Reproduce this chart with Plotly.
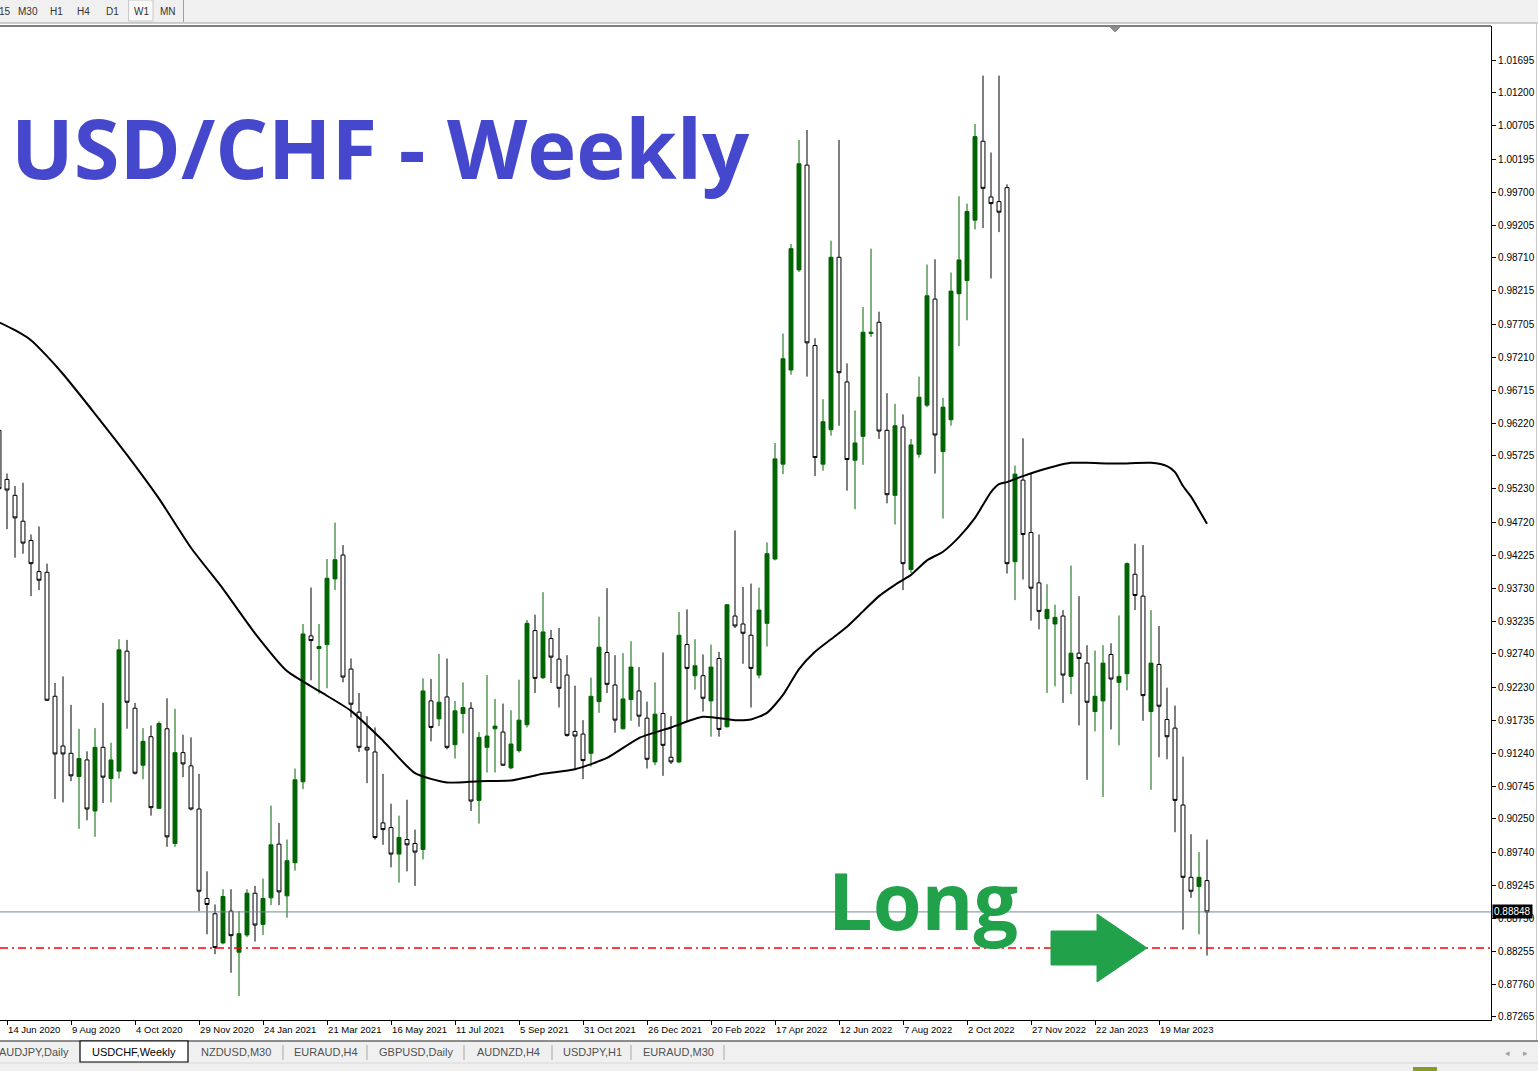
import pandas as pd
import plotly.graph_objects as go

# ---------------- data ----------------
first_week = "2020-06-07"

opens = [0.9611, 0.9537, 0.9513, 0.9474, 0.9445, 0.9398, 0.9397, 0.9210, 0.9135, 0.9124,
         0.9089, 0.9114, 0.9037, 0.9133, 0.9086, 0.9097, 0.9278, 0.9192, 0.9106, 0.9149,
         0.9041, 0.9161, 0.8988, 0.9125, 0.9105, 0.9040, 0.8905, 0.8882, 0.8838, 0.8886,
         0.8824, 0.8850, 0.8913, 0.8866, 0.8906, 0.8987, 0.8909, 0.8959, 0.9081, 0.9301,
         0.9282, 0.9288, 0.9387, 0.9423, 0.9251, 0.9186, 0.9133, 0.9126, 0.9019, 0.9012,
         0.8972, 0.8994, 0.8988, 0.8979, 0.9203, 0.9176, 0.9209, 0.9137, 0.9184, 0.9192,
         0.9053, 0.9133, 0.9161, 0.9156, 0.9102, 0.9128, 0.9167, 0.9309, 0.9238, 0.9297,
         0.9266, 0.9242, 0.9157, 0.9153, 0.9124, 0.9202, 0.9276, 0.9227, 0.9161, 0.9205,
         0.9218, 0.9177, 0.9111, 0.9184, 0.9118, 0.9111, 0.9288, 0.9241, 0.9241, 0.9203,
         0.9267, 0.9164, 0.9331, 0.9319, 0.9302, 0.9242, 0.9320, 0.9417, 0.9560, 0.9702,
         0.9853, 1.0011, 0.9739, 0.9560, 0.9612, 0.9872, 0.9684, 0.9566, 0.9602, 0.9757,
         0.9774, 0.9611, 0.9513, 0.9616, 0.9401, 0.9575, 0.9649, 0.9809, 0.9579, 0.9627,
         0.9817, 0.9837, 0.9928, 1.0047, 0.9963, 0.9956, 0.9977, 0.9413, 0.9536, 0.9457,
         0.9381, 0.9327, 0.9319, 0.9331, 0.9240, 0.9275, 0.9260, 0.9187, 0.9203, 0.9273,
         0.9231, 0.9244, 0.9394, 0.9361, 0.9187, 0.9258, 0.9175, 0.9162, 0.9046, 0.8937,
         0.8923, 0.8932]

highs = [0.9616, 0.9546, 0.9527, 0.9532, 0.9454, 0.9466, 0.9410, 0.9230, 0.9240, 0.9197,
         0.9161, 0.9127, 0.9162, 0.9200, 0.9140, 0.9296, 0.9295, 0.9200, 0.9162, 0.9166,
         0.9172, 0.9207, 0.9191, 0.9152, 0.9148, 0.9093, 0.8946, 0.8896, 0.8919, 0.8919,
         0.8886, 0.8919, 0.8924, 0.8935, 0.9045, 0.9019, 0.8994, 0.9101, 0.9319, 0.9374,
         0.9319, 0.9417, 0.9472, 0.9438, 0.9267, 0.9215, 0.9180, 0.9163, 0.9093, 0.9048,
         0.9030, 0.9054, 0.9009, 0.9237, 0.9236, 0.9274, 0.9267, 0.9203, 0.9231, 0.9201,
         0.9156, 0.9242, 0.9206, 0.9199, 0.9189, 0.9235, 0.9325, 0.9333, 0.9367, 0.9310,
         0.9313, 0.9272, 0.9226, 0.9174, 0.9238, 0.9330, 0.9373, 0.9272, 0.9275, 0.9293,
         0.9254, 0.9202, 0.9231, 0.9276, 0.9180, 0.9337, 0.9341, 0.9296, 0.9273, 0.9288,
         0.9277, 0.9349, 0.9460, 0.9375, 0.9380, 0.9374, 0.9442, 0.9592, 0.9757, 0.9892,
         1.0049, 1.0064, 0.9750, 0.9658, 0.9897, 1.0049, 0.9712, 0.9641, 0.9797, 0.9885,
         0.9790, 0.9667, 0.9651, 0.9635, 0.9598, 0.9692, 0.9861, 0.9869, 0.9660, 0.9849,
         0.9964, 0.9953, 1.0073, 1.0146, 1.0030, 1.0146, 0.9982, 0.9558, 0.9599, 0.9546,
         0.9454, 0.9379, 0.9348, 0.9340, 0.9407, 0.9361, 0.9287, 0.9279, 0.9287, 0.9290,
         0.9332, 0.9412, 0.9440, 0.9438, 0.9340, 0.9316, 0.9223, 0.9196, 0.9119, 0.9002,
         0.8975, 0.8994]

lows = [0.9518, 0.9462, 0.9419, 0.9425, 0.9361, 0.9370, 0.9203, 0.9055, 0.9050, 0.9082,
        0.9010, 0.9023, 0.8998, 0.9049, 0.9050, 0.9086, 0.9161, 0.9092, 0.9085, 0.9030,
        0.9040, 0.8983, 0.8983, 0.9088, 0.9038, 0.8886, 0.8851, 0.8821, 0.8836, 0.8793,
        0.8758, 0.8847, 0.8840, 0.8850, 0.8895, 0.8895, 0.8876, 0.8947, 0.9070, 0.9234,
        0.9214, 0.9222, 0.9370, 0.9231, 0.9178, 0.9126, 0.9079, 0.8994, 0.8986, 0.8952,
        0.8929, 0.8946, 0.8924, 0.8964, 0.9142, 0.9165, 0.9130, 0.9116, 0.9154, 0.9037,
        0.9018, 0.9095, 0.9095, 0.9105, 0.9100, 0.9125, 0.9163, 0.9215, 0.9236, 0.9230,
        0.9193, 0.9149, 0.9099, 0.9085, 0.9104, 0.9185, 0.9215, 0.9155, 0.9160, 0.9173,
        0.9164, 0.9101, 0.9106, 0.9090, 0.9108, 0.9109, 0.9172, 0.9220, 0.9187, 0.9149,
        0.9149, 0.9163, 0.9313, 0.9259, 0.9193, 0.9237, 0.9285, 0.9415, 0.9545, 0.9695,
        0.9850, 0.9692, 0.9542, 0.9550, 0.9603, 0.9618, 0.9520, 0.9492, 0.9559, 0.9752,
        0.9598, 0.9501, 0.9469, 0.9370, 0.9396, 0.9570, 0.9646, 0.9546, 0.9478, 0.9618,
        0.9738, 0.9777, 0.9914, 0.9916, 0.9840, 0.9910, 0.9395, 0.9355, 0.9386, 0.9324,
        0.9311, 0.9215, 0.9225, 0.9200, 0.9213, 0.9166, 0.9084, 0.9157, 0.9058, 0.9160,
        0.9136, 0.9219, 0.9340, 0.9173, 0.9069, 0.9118, 0.9115, 0.9005, 0.8858, 0.8906,
        0.8851, 0.8819]

closes = [0.9523, 0.9521, 0.9479, 0.9441, 0.9410, 0.9385, 0.9204, 0.9123, 0.9123, 0.9090,
          0.9116, 0.9040, 0.9133, 0.9088, 0.9114, 0.9280, 0.9201, 0.9094, 0.9142, 0.9042,
          0.9169, 0.8998, 0.9125, 0.9108, 0.9040, 0.8916, 0.8896, 0.8831, 0.8908, 0.8849,
          0.8852, 0.8913, 0.8865, 0.8905, 0.8986, 0.8915, 0.8962, 0.9084, 0.9304, 0.9294,
          0.9285, 0.9388, 0.9416, 0.9239, 0.9198, 0.9133, 0.9129, 0.8997, 0.9009, 0.8972,
          0.8997, 0.8986, 0.8975, 0.9218, 0.9163, 0.9201, 0.9133, 0.9188, 0.9193, 0.9052,
          0.9148, 0.9150, 0.9165, 0.9106, 0.9138, 0.9174, 0.9320, 0.9237, 0.9307, 0.9269,
          0.9222, 0.9151, 0.9150, 0.9113, 0.9210, 0.9284, 0.9228, 0.9174, 0.9206, 0.9254,
          0.9180, 0.9115, 0.9183, 0.9136, 0.9111, 0.9302, 0.9252, 0.9256, 0.9207, 0.9254,
          0.9160, 0.9348, 0.9316, 0.9305, 0.9252, 0.9340, 0.9425, 0.9568, 0.9719, 0.9885,
          1.0013, 0.9743, 0.9570, 0.9624, 0.9872, 0.9698, 0.9567, 0.9592, 0.9759, 0.9759,
          0.9610, 0.9514, 0.9618, 0.9410, 0.9589, 0.9661, 0.9814, 0.9604, 0.9646, 0.9821,
          0.9868, 0.9941, 1.0054, 0.9976, 0.9953, 0.9940, 0.9410, 0.9545, 0.9454, 0.9373,
          0.9338, 0.9341, 0.9329, 0.9242, 0.9275, 0.9267, 0.9201, 0.9210, 0.9260, 0.9236,
          0.9240, 0.9410, 0.9362, 0.9211, 0.9260, 0.9195, 0.9149, 0.9053, 0.8937, 0.8916,
          0.8937, 0.88848]

# moving average: index of the weekly bar and its value
ma_idx = [0, 2, 4, 6, 8, 12, 16, 20, 24, 28, 32, 36, 40, 44, 48, 52, 56, 60, 64, 68, 72,
          76, 80, 84, 88, 92, 94, 96, 98, 100, 102, 104, 106, 108, 110, 112, 114, 116, 118,
          120, 122, 124, 125, 126, 128, 130, 132, 134, 136, 140, 144, 146, 147, 148, 149,
          150, 151]
ma_vals = [0.9774, 0.9762, 0.9747, 0.9723, 0.9696, 0.9636, 0.9574, 0.9508, 0.9434, 0.9372,
           0.9305, 0.9248, 0.9218, 0.9188, 0.9143, 0.9094, 0.9080, 0.9082, 0.9083, 0.9093,
           0.9100, 0.9117, 0.9147, 0.9163, 0.9179, 0.9174, 0.9175, 0.9185, 0.9212, 0.9251,
           0.9277, 0.9296, 0.9315, 0.9338, 0.9361, 0.9378, 0.9393, 0.9415, 0.9428, 0.9450,
           0.9479, 0.9518, 0.9530, 0.9533, 0.9542, 0.9550, 0.9557, 0.9562, 0.9562, 0.9561,
           0.9562, 0.9557, 0.9548, 0.9527, 0.9511, 0.9491, 0.9470]

time_labels = ["14 Jun 2020", "9 Aug 2020", "4 Oct 2020", "29 Nov 2020", "24 Jan 2021",
               "21 Mar 2021", "16 May 2021", "11 Jul 2021", "5 Sep 2021", "31 Oct 2021",
               "26 Dec 2021", "20 Feb 2022", "17 Apr 2022", "12 Jun 2022", "7 Aug 2022",
               "2 Oct 2022", "27 Nov 2022", "22 Jan 2023", "19 Mar 2023"]

price_ticks = [1.01695, 1.01200, 1.00705, 1.00195, 0.99700, 0.99205, 0.98710, 0.98215,
               0.97705, 0.97210, 0.96715, 0.96220, 0.95725, 0.95230, 0.94720, 0.94225,
               0.93730, 0.93235, 0.92740, 0.92230, 0.91735, 0.91240, 0.90745, 0.90250,
               0.89740, 0.89245, 0.88750, 0.88255, 0.87760, 0.87265]

bid_price = 0.88848
level_price = 0.88304
y_range = [0.87218, 1.02208]

# ---------------- build ----------------
week_dates = pd.date_range(first_week, periods=len(opens), freq="7D")
tick_dates = pd.to_datetime(time_labels, format="%d %b %Y")
start = pd.Timestamp(first_week)
x_range = [start + pd.Timedelta(days=0.875), start + pd.Timedelta(days=1305.5)]

GREEN = "#006400"
fig = go.Figure()
fig.add_trace(go.Candlestick(
    x=week_dates, open=opens, high=highs, low=lows, close=closes,
    increasing=dict(line=dict(color=GREEN, width=1), fillcolor=GREEN),
    decreasing=dict(line=dict(color="#000000", width=1), fillcolor="#ffffff"),
    whiskerwidth=0, showlegend=False, hoverinfo="skip"))

fig.add_trace(go.Scatter(
    x=[week_dates[i] for i in ma_idx], y=ma_vals, mode="lines",
    line=dict(color="#000000", width=2, shape="spline", smoothing=0.6),
    showlegend=False, hoverinfo="skip"))

# plot-area pixel helpers for decorations
PW, PT, PB = 1491.0, 26.0, 1020.0
PH = PB - PT
def px(x):
    return x / PW
def py(y):
    return (PB - y) / PH

shapes = []
annos = []

# horizontal lines
shapes.append(dict(type="line", xref="paper", x0=0, x1=1, yref="y", y0=bid_price, y1=bid_price,
                   line=dict(color="#778899", width=1)))
shapes.append(dict(type="line", xref="paper", x0=0, x1=1, yref="y", y0=level_price, y1=level_price,
                   line=dict(color="#ff0000", width=1.4, dash="8px,4px,2px,4px")))

# frame top line
shapes.append(dict(type="line", xref="paper", yref="paper", x0=0, x1=1, y0=1, y1=1,
                   line=dict(color="black", width=1.2)))

# green arrow
arrow = ("M {a} {b} L {c} {b} L {c} {d} L {e} {f} L {c} {g} L {c} {h} L {a} {h} Z").format(
    a=px(1051), b=py(931), c=px(1097), d=py(914), e=px(1147), f=py(948), g=py(982), h=py(965))
shapes.append(dict(type="path", xref="paper", yref="paper", path=arrow,
                   fillcolor="#21a24a", line=dict(color="#21a24a", width=1)))

# chart shift marker
tri = "M {a} {t} L {b} {t} L {c} {u} Z".format(a=px(1110), b=px(1120), c=px(1115), t=py(27), u=py(32))
shapes.append(dict(type="path", xref="paper", yref="paper", path=tri,
                   fillcolor="#8c8c8c", line=dict(color="#8c8c8c", width=1)))

# ---- window chrome: top toolbar ----
shapes.append(dict(type="rect", xref="paper", yref="paper", x0=px(-2), x1=px(1540), y0=py(23), y1=py(-2),
                   fillcolor="#f0f0f0", line=dict(width=0), layer="above"))
shapes.append(dict(type="line", xref="paper", yref="paper", x0=px(0), x1=px(1538), y0=py(23), y1=py(23),
                   line=dict(color="#a0a0a0", width=1), layer="above"))
shapes.append(dict(type="rect", xref="paper", yref="paper", x0=px(128.5), x1=px(153), y0=py(21), y1=py(0),
                   fillcolor="#f9f9f9", line=dict(color="#c8c8c8", width=1), layer="above"))
shapes.append(dict(type="line", xref="paper", yref="paper", x0=px(183.5), x1=px(183.5), y0=py(22), y1=py(0),
                   line=dict(color="#a0a0a0", width=1), layer="above"))
for lab, cx in [("15", 5), ("M30", 28), ("H1", 56), ("H4", 83), ("D1", 112), ("W1", 141), ("MN", 168)]:
    annos.append(dict(xref="paper", yref="paper", x=px(cx), y=py(11.5), text=lab, showarrow=False,
                      xanchor="center", yanchor="middle",
                      font=dict(family="Liberation Sans", size=10, color="#333333")))

# ---- window chrome: bottom tabs ----
shapes.append(dict(type="rect", xref="paper", yref="paper", x0=px(-2), x1=px(1540), y0=py(1073), y1=py(1041),
                   fillcolor="#f0f0f0", line=dict(width=0)))
shapes.append(dict(type="line", xref="paper", yref="paper", x0=px(0), x1=px(1538), y0=py(1041), y1=py(1041),
                   line=dict(color="#202020", width=1.2)))
shapes.append(dict(type="line", xref="paper", yref="paper", x0=px(0), x1=px(1538), y0=py(1063), y1=py(1063),
                   line=dict(color="#d8d8d8", width=1)))
shapes.append(dict(type="rect", xref="paper", yref="paper", x0=px(80), x1=px(188), y0=py(1062), y1=py(1041),
                   fillcolor="#ffffff", line=dict(color="#000000", width=1.2)))
for sx in [283, 367, 464, 552, 631, 724]:
    shapes.append(dict(type="line", xref="paper", yref="paper", x0=px(sx), x1=px(sx), y0=py(1060), y1=py(1045),
                       line=dict(color="#a8a8a8", width=1)))
tabs = [("AUDJPY,Daily", 34, "#505050"), ("USDCHF,Weekly", 134, "#000000"), ("NZDUSD,M30", 236, "#505050"),
        ("EURAUD,H4", 326, "#505050"), ("GBPUSD,Daily", 416, "#505050"), ("AUDNZD,H4", 508, "#505050"),
        ("USDJPY,H1", 592, "#505050"), ("EURAUD,M30", 678, "#505050")]
for lab, cx, col in tabs:
    annos.append(dict(xref="paper", yref="paper", x=px(cx), y=py(1052), text=lab, showarrow=False,
                      xanchor="center", yanchor="middle",
                      font=dict(family="Liberation Sans", size=11, color=col)))
for lab, cx in [("\u25c2", 1507), ("\u25b8", 1526)]:
    annos.append(dict(xref="paper", yref="paper", x=px(cx), y=py(1052), text=lab, showarrow=False,
                      xanchor="center", yanchor="middle", font=dict(size=9, color="#a0a0a0")))
shapes.append(dict(type="rect", xref="paper", yref="paper", x0=px(1413), x1=px(1437), y0=py(1071), y1=py(1067),
                   fillcolor="#8a9a2a", line=dict(width=0)))
shapes.append(dict(type="line", xref="paper", yref="paper", x0=px(1536.5), x1=px(1536.5), y0=py(1040), y1=py(23),
                   line=dict(color="#c8c8c8", width=1)))

# bid label on the price scale
annos.append(dict(xref="paper", yref="y", x=1, y=bid_price, text="0.88848", showarrow=False,
                  xanchor="left", yanchor="middle", xshift=1, bgcolor="#000000", borderpad=1,
                  font=dict(family="Liberation Sans", size=10, color="#ffffff")))

# big texts
annos.append(dict(xref="paper", yref="paper", x=px(9), y=py(146), text="<b>USD/CHF - Weekly</b>",
                  showarrow=False, xanchor="left", yanchor="middle",
                  font=dict(family="Open Sans", size=83, color="#4548cc")))
annos.append(dict(xref="paper", yref="paper", x=px(826), y=py(899), text="<b>Long</b>",
                  showarrow=False, xanchor="left", yanchor="middle",
                  font=dict(family="Open Sans", size=79, color="#21a24a")))

fig.update_layout(
    width=1538, height=1071,
    margin=dict(l=0, r=47, t=26, b=51),
    paper_bgcolor="#ffffff", plot_bgcolor="#ffffff",
    shapes=shapes, annotations=annos,
    showlegend=False,
    xaxis=dict(type="date", range=x_range, tickvals=tick_dates, ticktext=time_labels,
               ticks="outside", ticklen=4, tickcolor="#000000", tickwidth=1,
               ticklabelposition="outside right",
               showgrid=False, zeroline=False, rangeslider=dict(visible=False),
               showline=True, linecolor="#000000", linewidth=1.2,
               tickfont=dict(family="Liberation Sans", size=9.5, color="#000000")),
    yaxis=dict(side="right", range=y_range, tickvals=price_ticks,
               ticktext=["%.5f" % v for v in price_ticks],
               ticks="outside", ticklen=4, tickcolor="#000000", tickwidth=1,
               showgrid=False, zeroline=False, showline=True, linecolor="#000000", linewidth=1.2,
               tickfont=dict(family="Liberation Sans", size=10, color="#000000")),
)

fig.write_html("out.html", config={"displayModeBar": False},
               post_script="document.body.style.margin='0px';document.body.style.overflow='hidden';")
